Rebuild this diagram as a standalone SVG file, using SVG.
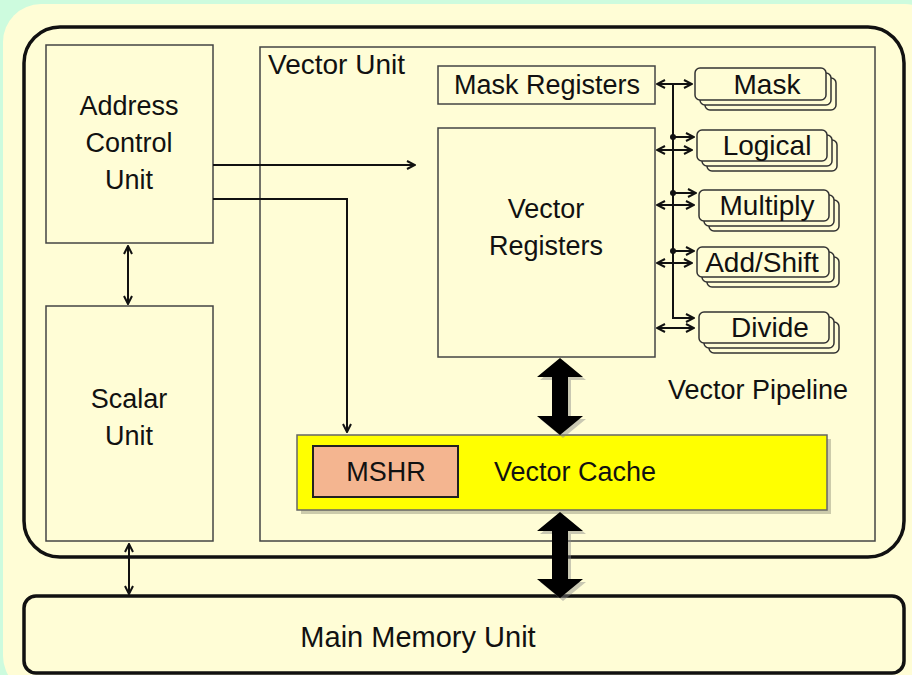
<svg xmlns="http://www.w3.org/2000/svg" width="912" height="675" viewBox="0 0 912 675">
<defs>
<style>
text{font-family:"Liberation Sans",Arial,sans-serif;font-size:27px;fill:#111}
.c{text-anchor:middle}
.f{font-size:28px}
.box{fill:none;stroke:#444;stroke-width:1.5}
.fu{fill:#fffdd6;stroke:#333;stroke-width:1.5}
.ln{fill:none;stroke:#111;stroke-width:2}
.big{fill:none;stroke:#111;stroke-width:3.5}
</style>
<marker id="ah" viewBox="0 0 10 10" refX="9" refY="5" markerWidth="10" markerHeight="10" markerUnits="userSpaceOnUse" orient="auto-start-reverse">
<path d="M1,1 L9,5 L1,9" fill="none" stroke="#111" stroke-width="2"/>
</marker>
</defs>
<rect x="0" y="0" width="912" height="675" fill="#cdfbde"/>
<rect x="3" y="4" width="940" height="690" rx="38" fill="#fffdd6"/>

<g id="outer"><rect x="24" y="27" width="880" height="530" rx="36" class="big"/></g>
<g id="main-memory"><rect x="24" y="596" width="880" height="77" rx="12" class="big"/><text x="418" y="647" class="c" style="font-size:29px">Main Memory Unit</text></g>

<g id="address-control-unit"><rect x="46" y="45" width="167" height="198" class="box"/>
<text x="129" y="115" class="c">Address</text><text x="129" y="152" class="c">Control</text><text x="129" y="189" class="c">Unit</text></g>
<g id="scalar-unit"><rect x="46" y="306" width="167" height="235" class="box"/>
<text x="129" y="408" class="c">Scalar</text><text x="129" y="445" class="c">Unit</text></g>

<g id="vector-unit"><rect x="260" y="47" width="615" height="494" class="box"/><text x="268" y="74" style="font-size:28px">Vector Unit</text></g>
<g id="mask-registers"><rect x="438" y="66" width="217" height="38" class="box"/><text x="547" y="94" class="c">Mask Registers</text></g>
<g id="vector-registers"><rect x="438" y="128" width="217" height="229" class="box"/><text x="546" y="218" class="c">Vector</text><text x="546" y="255" class="c">Registers</text></g>
<g id="vector-pipeline-label"><text x="668" y="399">Vector Pipeline</text></g>

<g id="vector-cache"><rect x="301" y="439" width="530" height="75" fill="#9a9a80" opacity="0.5"/>
<rect x="297" y="435" width="530" height="75" fill="#ffff00" stroke="#666" stroke-width="1.5"/>
<text x="494" y="481">Vector Cache</text></g>
<g id="mshr"><rect x="313" y="446" width="145" height="51" fill="#f4b590" stroke="#222" stroke-width="2"/><text x="386" y="481" class="c">MSHR</text></g>

<g id="fu-mask"><rect x="705" y="78" width="131" height="32" rx="5" class="fu"/><rect x="700" y="73" width="131" height="32" rx="5" class="fu"/><rect x="695" y="68" width="131" height="32" rx="5" class="fu"/><text x="767" y="94" class="c f">Mask</text></g>
<g id="fu-logical"><rect x="707" y="140" width="130" height="31" rx="5" class="fu"/><rect x="702" y="135" width="130" height="31" rx="5" class="fu"/><rect x="697" y="130" width="130" height="31" rx="5" class="fu"/><text x="767" y="155" class="c f">Logical</text></g>
<g id="fu-multiply"><rect x="709" y="200" width="130" height="31" rx="5" class="fu"/><rect x="704" y="195" width="130" height="31" rx="5" class="fu"/><rect x="699" y="190" width="130" height="31" rx="5" class="fu"/><text x="767" y="215" class="c f">Multiply</text></g>
<g id="fu-addshift"><rect x="707" y="257" width="132" height="30" rx="5" class="fu"/><rect x="702" y="252" width="132" height="30" rx="5" class="fu"/><rect x="697" y="247" width="132" height="30" rx="5" class="fu"/><text x="762" y="272" class="c f">Add/Shift</text></g>
<g id="fu-divide"><rect x="709" y="322" width="130" height="31" rx="5" class="fu"/><rect x="704" y="317" width="130" height="31" rx="5" class="fu"/><rect x="699" y="312" width="130" height="31" rx="5" class="fu"/><text x="770" y="337" class="c f">Divide</text></g>

<g id="connectors">
<path d="M213,165 H415" class="ln" marker-end="url(#ah)"/>
<path d="M213,199 H347 V432" class="ln" marker-end="url(#ah)"/>
<path d="M128,246 V304" class="ln" marker-start="url(#ah)" marker-end="url(#ah)"/>
<path d="M129,544 V594" class="ln" marker-start="url(#ah)" marker-end="url(#ah)"/>
<path d="M657,84 H692" class="ln" marker-start="url(#ah)" marker-end="url(#ah)"/>
<path d="M673,84 V318 H694" class="ln" marker-end="url(#ah)"/>
<path d="M673,137 H694" class="ln" marker-end="url(#ah)"/>
<path d="M673,193 H696" class="ln" marker-end="url(#ah)"/>
<path d="M673,251 H694" class="ln" marker-end="url(#ah)"/>
<circle cx="673" cy="137" r="3" fill="#111"/>
<circle cx="673" cy="193" r="3" fill="#111"/>
<circle cx="673" cy="251" r="3" fill="#111"/>
<path d="M657,150 H692" class="ln" marker-start="url(#ah)" marker-end="url(#ah)"/>
<path d="M657,205 H694" class="ln" marker-start="url(#ah)" marker-end="url(#ah)"/>
<path d="M657,263 H692" class="ln" marker-start="url(#ah)" marker-end="url(#ah)"/>
<path d="M657,328 H694" class="ln" marker-start="url(#ah)" marker-end="url(#ah)"/>
<polygon points="563,361 586,380 571,380 571,419 586,419 563,438 540,419 555,419 555,380 540,380" fill="#888" opacity="0.45"/>
<polygon points="560,358 583,377 568,377 568,416 583,416 560,435 537,416 552,416 552,377 537,377" fill="#000"/>
<polygon points="563,515 586,534 571,534 571,582 586,582 563,601 540,582 555,582 555,534 540,534" fill="#888" opacity="0.45"/>
<polygon points="560,512 583,531 568,531 568,579 583,579 560,598 537,579 552,579 552,531 537,531" fill="#000"/>
</g>
</svg>
